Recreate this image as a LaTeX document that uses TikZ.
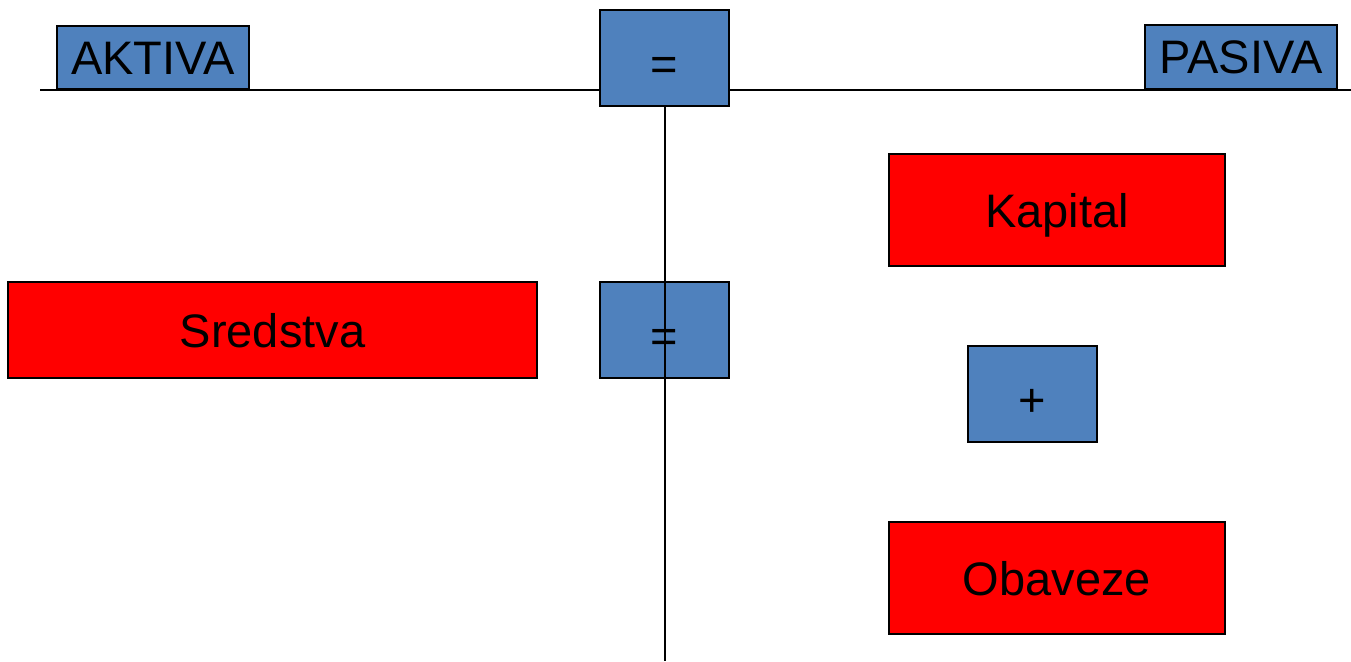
\documentclass[tikz,border=0pt]{standalone}
\usepackage{fontspec}
\setmainfont{Liberation Sans}
\definecolor{boxblue}{HTML}{4F81BD}
\definecolor{boxred}{HTML}{FF0000}
\begin{document}
\begin{tikzpicture}[x=1pt,y=-1pt,
  base/.style={draw=black,line width=2pt,inner sep=0pt,
    font=\fontsize{47}{50}\selectfont,text height=34pt,text depth=0pt},
  bluebox/.style={base,fill=boxblue},
  redbox/.style={base,fill=boxred},
  symbox/.style={bluebox,minimum width=129pt,minimum height=96pt,text height=44pt},
  axis/.style={line width=2.5pt}]
\useasboundingbox (0,0) rectangle (1351,661);
\coordinate (hl) at (40,90);
\coordinate (hr) at (1351,90);
\coordinate (vb) at (665,661);
\draw[axis] (hl) -- (hr);
\node[bluebox,minimum width=192pt,minimum height=63pt] (aktiva) at (153,57.5) {AKTIVA};
\node[bluebox,minimum width=192pt,minimum height=64pt] (pasiva) at (1241,57) {PASIVA};
\node[symbox] (eqtop) at (664.5,58) {=};
\node[symbox] (eqmid) at (664.5,330) {=};
\node[redbox,minimum width=529pt,minimum height=96pt] (sredstva) at (272.5,330) {Sredstva};
\node[redbox,minimum width=336pt,minimum height=112pt] (kapital) at (1057,210) {Kapital};
\node[symbox] (plus) at (1032.5,394) {+};
\node[redbox,minimum width=336pt,minimum height=112pt] (obaveze) at (1057,578) {Obaveze};
\draw[axis] (eqtop.south -| vb) -- (vb);
\end{tikzpicture}
\end{document}
